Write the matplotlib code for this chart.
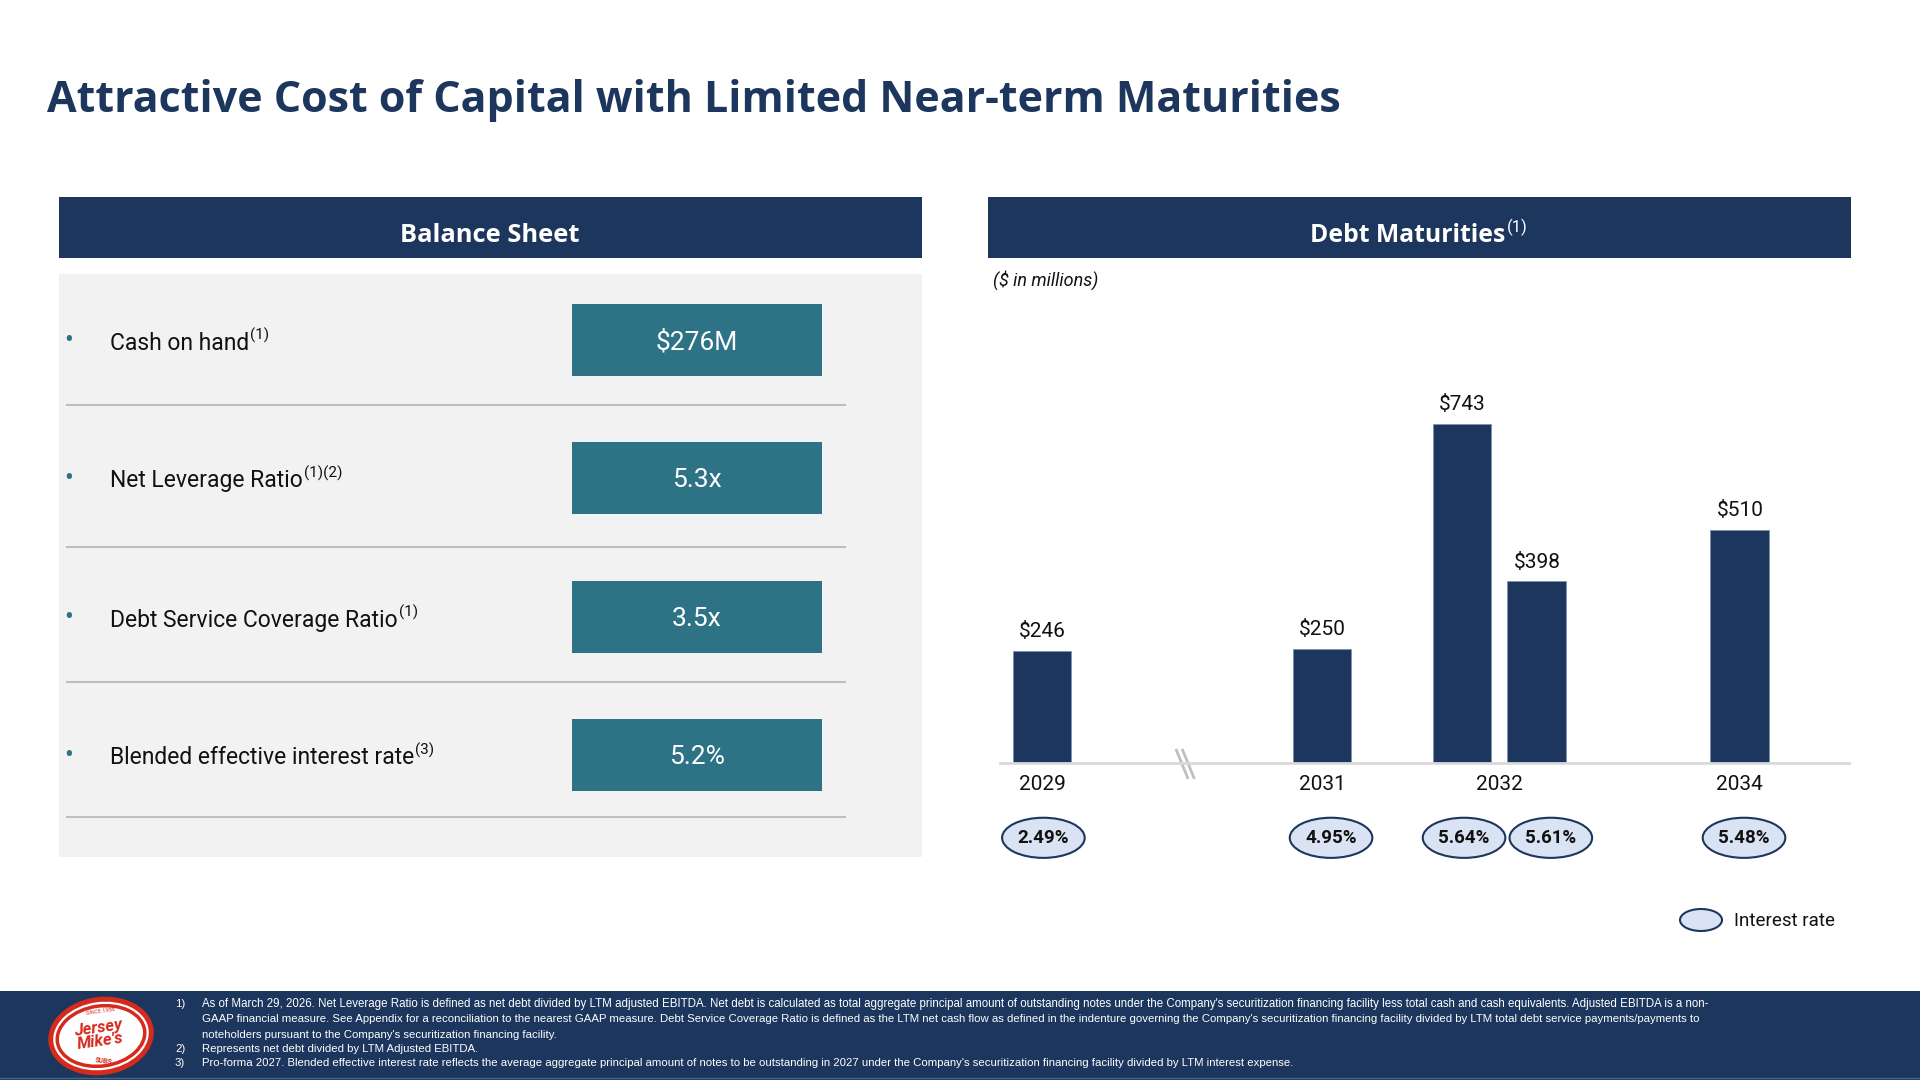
"""
Debt maturities slide: balance sheet summary on the left, maturity bars on the right.
"""
import matplotlib
matplotlib.use("Agg")
import matplotlib.pyplot as plt
from matplotlib.patches import Rectangle, Ellipse

NAVY = "#1D365D"
TEAL = "#2E7285"
PANEL = "#F2F2F2"
LIGHT = "#DAE3F3"
FONT = ["Roboto", "DejaVu Sans"]
BOLD = ["Open Sans", "DejaVu Sans"]
NARROW = ["Liberation Sans Narrow", "Liberation Sans", "DejaVu Sans"]

# balance sheet rows
metric_names = ["Cash on hand", "Net Leverage Ratio", "Debt Service Coverage Ratio",
                "Blended effective interest rate"]
metric_notes = ["(1)", "(1)(2)", "(1)", "(3)"]
metric_values = ["$276M", "5.3x", "3.5x", "5.2%"]

# debt maturities ($ in millions)
years = ["2029", "2031", "2032", "2034"]
maturities = [246, 250, 743, 398, 510]
rates = ["2.49%", "4.95%", "5.64%", "5.61%", "5.48%"]

# layout only: slot positions of bars, year labels and rate bubbles
bar_pos = [0, 4, 6, 7.07, 9.97]
year_pos = [0, 4, 6.53, 9.97]
rate_pos = [0.02, 4.13, 6.03, 7.27, 10.03]

footnotes = [
    ("1)", "As of March 29, 2026. Net Leverage Ratio is defined as net debt divided by LTM adjusted EBITDA. Net debt is calculated as total aggregate principal amount of outstanding notes under the Company's securitization financing facility less total cash and cash equivalents. Adjusted EBITDA is a non-"),
    ("", "GAAP financial measure. See Appendix for a reconciliation to the nearest GAAP measure. Debt Service Coverage Ratio is defined as the LTM net cash flow as defined in the indenture governing the Company's securitization financing facility divided by LTM total debt service payments/payments to"),
    ("", "noteholders pursuant to the Company's securitization financing facility."),
    ("2)", "Represents net debt divided by LTM Adjusted EBITDA."),
    ("3)", "Pro-forma 2027. Blended effective interest rate reflects the average aggregate principal amount of notes to be outstanding in 2027 under the Company's securitization financing facility divided by LTM interest expense."),
]

fig = plt.figure(figsize=(19.2, 10.8), dpi=100)
fig.patch.set_facecolor("white")

# full-page canvas in pixel units (y down)
bg = fig.add_axes([0, 0, 1, 1])
bg.set_xlim(0, 1920)
bg.set_ylim(1080, 0)
bg.axis("off")
renderer = fig.canvas.get_renderer()


def fit_width(t, target):
    # scale a text so that it spans the target pixel width
    w = t.get_window_extent(renderer).width
    t.set_fontsize(t.get_fontsize() * target / w)


def with_sup(x, y, main, sup, size, sup_size, color, weight="normal", center=False,
             family=FONT, width=None):
    t1 = bg.text(x, y, main, fontsize=size, color=color, weight=weight,
                 family=family, ha="left", va="center")
    if width:
        fit_width(t1, width)
    w1 = t1.get_window_extent(renderer).width
    t2 = bg.text(x + w1 + 1, y - size * 0.45, sup, fontsize=sup_size, color=color,
                 weight="normal", family=FONT, ha="left", va="center")
    if center:
        w2 = t2.get_window_extent(renderer).width
        shift = (w1 + 1 + w2) / 2
        t1.set_x(x - shift)
        t2.set_x(x - shift + w1 + 1)


# title
title = bg.text(47, 101, "Attractive Cost of Capital with Limited Near-term Maturities",
                fontsize=28, weight="bold", color=NAVY, family=BOLD, ha="left", va="center")
fit_width(title, 1292)

# panel headers
bg.add_patch(Rectangle((59, 197), 863, 61, facecolor=NAVY, edgecolor="none"))
bg.add_patch(Rectangle((988, 197), 863, 61, facecolor=NAVY, edgecolor="none"))
hdr = bg.text(490, 235, "Balance Sheet", fontsize=18, weight="bold", color="white",
              family=BOLD, ha="center", va="center")
fit_width(hdr, 180)
with_sup(1419, 235, "Debt Maturities", "(1)", 18, 12, "white", weight="bold",
         center=True, family=BOLD, width=195)

# balance sheet panel
bg.add_patch(Rectangle((59, 274), 863, 583, facecolor=PANEL, edgecolor="none"))
row_y = [340, 478, 617, 755]
sep_y = [405, 547, 682, 817]
for i, (name, note, val) in enumerate(zip(metric_names, metric_notes, metric_values)):
    y = row_y[i]
    bg.text(69, y + 1, "\u2022", fontsize=19, color=TEAL, family=FONT, ha="center", va="center")
    with_sup(110, y + 3, name, note, 16.5, 11, "#111111")
    bg.add_patch(Rectangle((572, y - 36), 250, 72, facecolor=TEAL, edgecolor="none"))
    bg.text(697, y + 2, val, fontsize=19, color="white", family=FONT, ha="center", va="center")
    bg.plot([67, 845], [sep_y[i], sep_y[i]], color="#BFBFBF", lw=1.5)

bg.text(993, 280, "($ in millions)", fontsize=13, style="italic", color="#111111",
        family=FONT, ha="left", va="center")

# legend
bg.add_patch(Ellipse((1701, 920), 42, 22, facecolor=LIGHT, edgecolor=NAVY, lw=1.5))
bg.text(1734, 921, "Interest rate", fontsize=13.5, color="#111111", family=FONT,
        ha="left", va="center")

# footer
bg.add_patch(Rectangle((0, 991), 1920, 89, facecolor=NAVY, edgecolor="none"))
bg.plot([0, 1920], [1078, 1078], color="#4A6488", lw=1)
foot_y = [1004, 1019, 1035, 1049, 1063]
for (num, line), y in zip(footnotes, foot_y):
    if num:
        bg.text(175, y, num, fontsize=8.2, color="white", family=NARROW, ha="left", va="center")
    t = bg.text(202, y, line, fontsize=8.2, color="white", family=NARROW, ha="left", va="center")
    if y == foot_y[0]:
        fit_width(t, 1504)

# logo
bg.add_patch(Ellipse((101, 1036), 106, 78, angle=-8, facecolor="#D52B1E", edgecolor="none"))
bg.add_patch(Ellipse((101, 1036), 96, 68, angle=-8, facecolor="white", edgecolor="none"))
bg.add_patch(Ellipse((101, 1036), 88, 60, angle=-8, facecolor="white", edgecolor="#D52B1E", lw=2.5))
bg.text(99, 1035, "Jersey\nMike's", fontsize=12, weight="bold", style="italic",
        color="#D52B1E", family=FONT, ha="center", va="center", rotation=8,
        linespacing=0.85)
bg.text(100, 1011, "SINCE 1956", fontsize=4, color="#D52B1E", family=FONT,
        ha="center", va="center", rotation=8)
bg.text(104, 1061, "SUBS", fontsize=5, weight="bold", color="#D52B1E", family=FONT,
        ha="center", va="center", rotation=-8)

# debt maturity bars
ax = fig.add_axes([1000 / 1920, (1080 - 763) / 1080, 849 / 1920, 463 / 1080])
ax.set_xlim(-0.6, 11.53)
ax.set_ylim(0, 1015)
ax.patch.set_alpha(0)
for s in ["top", "right", "left"]:
    ax.spines[s].set_visible(False)
ax.spines["bottom"].set_color("#D9D9D9")
ax.spines["bottom"].set_linewidth(2)
ax.set_yticks([])
ax.set_xticks([])

bars = ax.bar(bar_pos, maturities, width=0.84, color=NAVY, edgecolor="#7F93B0", linewidth=0.6)
for b, v in zip(bars, maturities):
    ax.annotate(f"${v}", (b.get_x() + b.get_width() / 2, v), xytext=(0, 14),
                textcoords="offset points", ha="center", va="center", fontsize=15,
                color="#111111", family=FONT)

for x, yr in zip(year_pos, years):
    ax.text(x, -48, yr, fontsize=15, color="#111111", family=FONT, ha="center",
            va="center", clip_on=False)

for x, r in zip(rate_pos, rates):
    ax.add_patch(Ellipse((x, -164), 1.18, 88, facecolor=LIGHT, edgecolor=NAVY,
                         lw=1.5, clip_on=False))
    ax.text(x, -164, r, fontsize=13.5, weight="bold", color="#111111", family=FONT,
            ha="center", va="center", clip_on=False)

# axis break marks between 2029 and 2031
for dx in (0, 0.09):
    ax.plot([1.92 + dx, 2.08 + dx], [28, -32], color="#BFBFBF", lw=2, clip_on=False)

fig.savefig("out.png", dpi=100)
